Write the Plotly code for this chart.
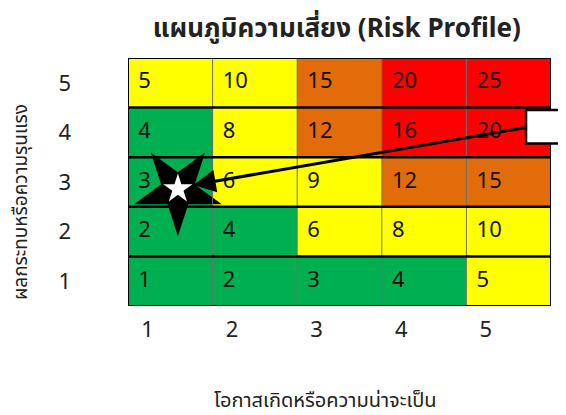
import plotly.graph_objects as go

likelihood = [1, 2, 3, 4, 5]
impact = [1, 2, 3, 4, 5]
# level per cell: rows = impact 1..5, cols = likelihood 1..5 (0 green,1 yellow,2 orange,3 red)
levels = [
    [0, 0, 0, 0, 1],
    [0, 0, 1, 1, 1],
    [0, 1, 1, 2, 2],
    [0, 1, 2, 3, 3],
    [1, 1, 2, 3, 3],
]
level_colors = ["#00B050", "#FFFF00", "#E26B0A", "#FF0000"]
current_risk = {"likelihood": 1, "impact": 3}

title_text = "แผนภูมิความเสี่ยง (Risk Profile)"
x_title = "โอกาสเกิดหรือความน่าจะเป็น"
y_title = "ผลกระทบหรือความรุนแรง"

FONT = "Noto Sans, Noto Sans Thai, DejaVu Sans"

fig = go.Figure()

n = len(levels)
cs = []
for i, c in enumerate(level_colors):
    cs.append([i / len(level_colors), c])
    cs.append([(i + 1) / len(level_colors), c])

fig.add_trace(go.Heatmap(
    x=likelihood, y=impact, z=levels, colorscale=cs, zmin=-0.5, zmax=3.5,
    showscale=False, hoverinfo="skip",
))

tx, ty, tt = [], [], []
for r, imp in enumerate(impact):
    for c, lk in enumerate(likelihood):
        tx.append(lk - 0.38)
        ty.append(imp)
        tt.append(str(lk * imp))
fig.add_trace(go.Scatter(
    x=tx, y=ty, text=tt, mode="text", textposition="middle right",
    textfont=dict(family=FONT, size=22, color="#111"), hoverinfo="skip",
))

shapes = []
for k in range(1, n):
    shapes.append(dict(type="line", xref="x", yref="y", x0=0.5 + k, x1=0.5 + k,
                       y0=0.5, y1=5.5, line=dict(color="#6e6e6e", width=1)))
for k in range(1, n):
    shapes.append(dict(type="line", xref="x", yref="y", x0=0.5, x1=5.5,
                       y0=0.5 + k, y1=0.5 + k, line=dict(color="black", width=2.5)))
shapes.append(dict(type="rect", xref="x", yref="y", x0=0.5, x1=5.5, y0=0.5, y1=5.5,
                   line=dict(color="black", width=2)))
shapes.append(dict(type="rect", xref="paper", yref="paper", x0=0.941, x1=1.07,
                   y0=0.655, y1=0.79, fillcolor="white", line=dict(color="black", width=2.5)))

sx = current_risk["likelihood"] + 0.09
sy = current_risk["impact"] - 0.16
fig.add_trace(go.Scatter(
    x=[sx], y=[sy], mode="markers",
    marker=dict(symbol="star", size=66, angle=180, color="black", line=dict(width=0)),
    hoverinfo="skip",
))
fig.add_trace(go.Scatter(
    x=[sx], y=[sy + 0.02], mode="markers",
    marker=dict(symbol="star", size=22, color="white", line=dict(width=0)),
    hoverinfo="skip",
))

annotations = [
    dict(x=current_risk["likelihood"] + 0.27, y=current_risk["impact"] - 0.06,
         xref="x", yref="y", ax=336, ay=-58, axref="pixel", ayref="pixel",
         showarrow=True, arrowhead=2, arrowside="end", arrowsize=1.5, arrowwidth=3,
         arrowcolor="black", text=" ", standoff=0),
    dict(x=-0.255, y=0.42, xref="paper", yref="paper", text=y_title, textangle=-90,
         xanchor="center", yanchor="middle",
         showarrow=False, font=dict(family=FONT, size=19, color="#222")),
    dict(x=0.466, y=-0.375, xref="paper", yref="paper", text=x_title,
         xanchor="center", yanchor="middle",
         showarrow=False, font=dict(family=FONT, size=20, color="#222")),
]

# the page body has an 8px margin; margins compensate so the plot lands where it should
fig.update_layout(
    width=566, height=415,
    margin=dict(l=120, r=23, t=50, b=117, autoexpand=False),
    paper_bgcolor="white", plot_bgcolor="white",
    title=dict(text="<b>" + title_text + "</b>", x=0.581, xanchor="center", y=0.952,
               yanchor="middle", font=dict(family=FONT, size=26, color="#222")),
    showlegend=False,
    shapes=shapes,
    annotations=annotations,
    xaxis=dict(range=[0.5, 5.5], tickvals=[v - 0.27 for v in likelihood],
               ticktext=[str(v) for v in likelihood], showgrid=False, zeroline=False,
               ticks="", ticklabelstandoff=8,
               tickfont=dict(family=FONT, size=22, color="#222"), fixedrange=True),
    yaxis=dict(range=[0.5, 5.5], tickvals=impact, ticktext=[str(v) for v in impact],
               showgrid=False, zeroline=False, ticks="", ticklabelstandoff=56,
               tickfont=dict(family=FONT, size=22, color="#222"), fixedrange=True),
)

fig.write_html("out.html")
